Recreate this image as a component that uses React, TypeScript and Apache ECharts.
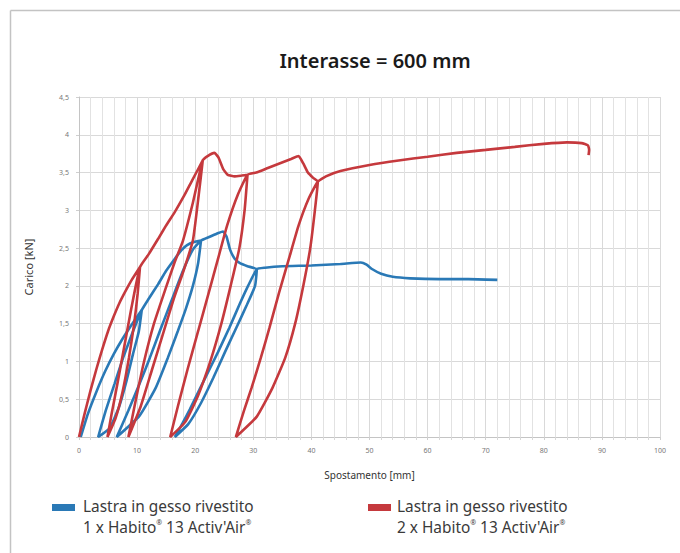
import React, { useEffect, useRef } from "react";
import * as echarts from "echarts";

const chartTitle = "Interasse = 600 mm";
const xAxisName = "Spostamento [mm]";
const yAxisName = "Carico [kN]";
const legendLine1 = "Lastra in gesso rivestito";
const legendLine2Blue = "1 x Habito{s|®} 13 Activ'Air{s|®}";
const legendLine2Red = "2 x Habito{s|®} 13 Activ'Air{s|®}";
const seriesNames = [
  "Lastra in gesso rivestito 1 x Habito® 13 Activ'Air®",
  "Lastra in gesso rivestito 2 x Habito® 13 Activ'Air®",
];
const xTickValues = [0, 10, 20, 30, 40, 50, 60, 70, 80, 90, 100];
const yTickValues = [0, 0.5, 1, 1.5, 2, 2.5, 3, 3.5, 4, 4.5];

// ---- 1 x Habito (blue) : [spostamento mm, carico kN] in path order ----
const blueEnvelope1 = [[0.3, 0], [1.5, 0.3], [3, 0.6], [4.5, 0.87], [6, 1.1], [7.5, 1.3], [9, 1.48], [10.8, 1.68]];
const blueUnload1 = [[10.3, 1.4], [9.3, 1.1], [8.2, 0.75], [6.9, 0.4], [5.3, 0.12], [3.3, 0]];
const blueReload1 = [[4.6, 0.35], [6.1, 0.7], [7.6, 1.05], [9.2, 1.38], [10.8, 1.68]];
const blueEnvelope2 = [[12, 1.83], [13.6, 2.02], [15, 2.2], [16.5, 2.36], [17.6, 2.47], [18.6, 2.54], [19.8, 2.58], [21, 2.6]];
const blueUnload2 = [[20.5, 2.3], [19.6, 2.0], [18.4, 1.7], [17, 1.4], [15.3, 1.05], [13.2, 0.65], [10.4, 0.28], [6.5, 0]];
const blueReload2 = [[8.5, 0.35], [10.4, 0.7], [12.2, 1.05], [14, 1.42], [15.9, 1.8], [17.9, 2.2], [19.6, 2.48], [21, 2.6]];
const blueEnvelope3 = [[22.5, 2.65], [24, 2.7], [24.8, 2.72], [25.4, 2.65], [26, 2.48], [26.8, 2.36], [27.7, 2.3], [29, 2.26], [30.6, 2.22]];
const blueUnload3 = [[30.3, 2.0], [28.9, 1.75], [27.1, 1.45], [25.1, 1.12], [23.1, 0.78], [21, 0.45], [18.8, 0.17], [16.5, 0]];
const blueReload3 = [[17.8, 0.18], [19.1, 0.37], [21.2, 0.7], [23.9, 1.12], [25.9, 1.45], [27.6, 1.75], [29.1, 2.0], [30.6, 2.22]];
const blueEnvelope4 = [[32, 2.24], [35, 2.26], [40, 2.27], [45, 2.29], [48.5, 2.31], [49.5, 2.28], [50.5, 2.22], [52, 2.16], [54, 2.12], [57, 2.1], [62, 2.09], [67, 2.09], [72, 2.08]];

// ---- 2 x Habito (red) ----
const redEnvelope1 = [[0, 0], [1, 0.32], [2, 0.62], [3, 0.9], [4, 1.16], [5, 1.4], [6, 1.6], [7, 1.78], [8, 1.93], [9, 2.07], [10.5, 2.25]];
const redUnload1 = [[10.1, 1.9], [9.5, 1.5], [8.6, 1.05], [7.5, 0.6], [6.3, 0.25], [4.9, 0]];
const redReload1 = [[5.6, 0.3], [6.6, 0.7], [7.8, 1.2], [9, 1.7], [10.5, 2.25]];
const redEnvelope2 = [[12, 2.42], [13.6, 2.62], [15, 2.8], [16.5, 2.98], [18, 3.18], [19.5, 3.4], [21.3, 3.66]];
const redUnload2 = [[20.6, 3.2], [19.6, 2.6], [18, 2.2], [16.4, 1.85], [14.6, 1.4], [12.6, 0.9], [10.6, 0.4], [8.5, 0]];
const redReload2 = [[9.8, 0.5], [11.2, 1.0], [12.9, 1.5], [14.8, 1.94], [16.4, 2.3], [17.9, 2.6], [19.6, 3.1], [21.3, 3.66]];
const redEnvelope3 = [[22.2, 3.72], [23.3, 3.76], [24, 3.7], [24.8, 3.55], [25.6, 3.47], [26.8, 3.45], [28, 3.46], [29, 3.47]];
const redUnload3 = [[28.5, 3.0], [27.6, 2.5], [26.1, 2.0], [24.5, 1.5], [22.6, 1.0], [20.5, 0.55], [18.3, 0.2], [15.7, 0]];
const redReload3 = [[17, 0.4], [18.7, 0.9], [20.5, 1.4], [22.3, 1.9], [23.9, 2.35], [25.5, 2.8], [27.3, 3.2], [29, 3.47]];
const redEnvelope4 = [[30.5, 3.5], [32.5, 3.56], [34.5, 3.62], [36.5, 3.68], [37.8, 3.72], [38.6, 3.62], [39.4, 3.5], [40.3, 3.43], [41.1, 3.38]];
const redUnload4 = [[40.6, 3.0], [39.8, 2.5], [38.6, 2.0], [37.2, 1.5], [35.5, 1.05], [33.3, 0.65], [30.6, 0.27], [27, 0]];
const redReload4 = [[28.4, 0.35], [29.7, 0.65], [31.3, 1.05], [32.8, 1.45], [34.4, 1.9], [36.1, 2.35], [37.8, 2.8], [39.5, 3.15], [41.1, 3.38]];
const redEnvelope5 = [[42.5, 3.45], [45, 3.52], [50, 3.6], [55, 3.66], [60, 3.71], [65, 3.76], [70, 3.8], [75, 3.84], [80, 3.88], [84, 3.9], [86.5, 3.89], [87.6, 3.86], [87.8, 3.8], [87.7, 3.73]];

const blueData = [
  ...blueEnvelope1, ...blueUnload1, ...blueReload1, ...blueEnvelope2, ...blueUnload2, ...blueReload2,
  ...blueEnvelope3, ...blueUnload3, ...blueReload3, ...blueEnvelope4,
];
const redData = [
  ...redEnvelope1, ...redUnload1, ...redReload1, ...redEnvelope2, ...redUnload2, ...redReload2,
  ...redEnvelope3, ...redUnload3, ...redReload3, ...redEnvelope4, ...redUnload4, ...redReload4, ...redEnvelope5,
];

const BLUE = "#2a79b6";
const RED = "#c5393d";
const FONT = "'Noto Sans', 'DejaVu Sans', sans-serif";
const LEGEND_FONT_SIZE = 15.4;

export default function App() {
  const ref = useRef<HTMLDivElement>(null);
  useEffect(() => {
    if (!ref.current) return;
    const chart = echarts.init(ref.current, null, { renderer: "svg" });
    const legendTexts = (x: number, second: string) => [
      {
        type: "text",
        left: x,
        top: 499,
        style: { text: legendLine1, fontFamily: FONT, fontSize: LEGEND_FONT_SIZE, fill: "#3a3a3a" },
      },
      {
        type: "text",
        left: x,
        top: 519,
        style: {
          text: second,
          fontFamily: FONT,
          fontSize: LEGEND_FONT_SIZE,
          lineHeight: 17,
          fill: "#3a3a3a",
          rich: { s: { fontSize: 7, verticalAlign: "top", lineHeight: 17, fill: "#3a3a3a", fontFamily: FONT } },
        },
      },
    ];
    chart.setOption({
      animation: false,
      backgroundColor: "#ffffff",
      title: {
        text: chartTitle,
        left: 370,
        top: 45,
        textAlign: "center",
        textStyle: { fontFamily: FONT, fontSize: 20, fontWeight: 600, color: "#1a1a1a" },
      },
      grid: { left: 79, right: 20, top: 97, bottom: 116 },
      xAxis: {
        type: "value",
        min: xTickValues[0],
        max: xTickValues[xTickValues.length - 1],
        interval: 10,
        name: xAxisName,
        nameLocation: "middle",
        nameGap: 33,
        nameTextStyle: { fontFamily: FONT, fontSize: 10, color: "#333" },
        axisLine: { show: true, lineStyle: { color: "#c4c4c4", width: 1 } },
        axisTick: { show: true, length: 3, lineStyle: { color: "#cfcfcf" } },
        minorTick: { show: true, splitNumber: 5, length: 3, lineStyle: { color: "#d8d8d8" } },
        axisLabel: { fontFamily: FONT, fontSize: 7, color: "#777", margin: 10 },
        splitLine: { show: true, lineStyle: { color: "#d9d9d9", width: 1 } },
        minorSplitLine: { show: true, lineStyle: { color: "#e2e2e2", width: 1 } },
      },
      yAxis: {
        type: "value",
        min: yTickValues[0],
        max: yTickValues[yTickValues.length - 1],
        interval: 0.5,
        name: yAxisName,
        nameLocation: "middle",
        nameGap: 45,
        nameRotate: 90,
        nameTextStyle: { fontFamily: FONT, fontSize: 11, color: "#333" },
        axisLine: { show: true, lineStyle: { color: "#c4c4c4", width: 1 } },
        axisTick: { show: true, length: 3, lineStyle: { color: "#cfcfcf" } },
        axisLabel: {
          fontFamily: FONT,
          fontSize: 7,
          color: "#777",
          margin: 10,
          formatter: (v: number) => String(v).replace(".", ","),
        },
        splitLine: { show: true, lineStyle: { color: "#d9d9d9", width: 1 } },
      },
      series: [
        {
          name: seriesNames[0],
          type: "line",
          data: blueData,
          showSymbol: false,
          symbol: "none",
          smooth: 0.15,
          lineStyle: { color: BLUE, width: 2.6 },
          itemStyle: { color: BLUE },
          z: 2,
        },
        {
          name: seriesNames[1],
          type: "line",
          data: redData,
          showSymbol: false,
          symbol: "none",
          smooth: 0.15,
          lineStyle: { color: RED, width: 2.6 },
          itemStyle: { color: RED },
          z: 3,
        },
      ],
      graphic: [
        { type: "line", shape: { x1: 10.5, y1: 10.5, x2: 680, y2: 10.5 }, style: { stroke: "#c3c3c3", lineWidth: 1.5 } },
        { type: "line", shape: { x1: 10.5, y1: 10.5, x2: 10.5, y2: 553 }, style: { stroke: "#c3c3c3", lineWidth: 1.5 } },
        { type: "rect", left: 52, top: 504, shape: { width: 23, height: 7 }, style: { fill: BLUE } },
        ...legendTexts(83, legendLine2Blue),
        { type: "rect", left: 368, top: 504, shape: { width: 23, height: 7 }, style: { fill: RED } },
        ...legendTexts(397, legendLine2Red),
      ],
    });
    return () => chart.dispose();
  }, []);
  return (
    <div
      ref={ref}
      style={{ position: "absolute", left: 0, top: 0, width: 680, height: 553 }}
    />
  );
}
